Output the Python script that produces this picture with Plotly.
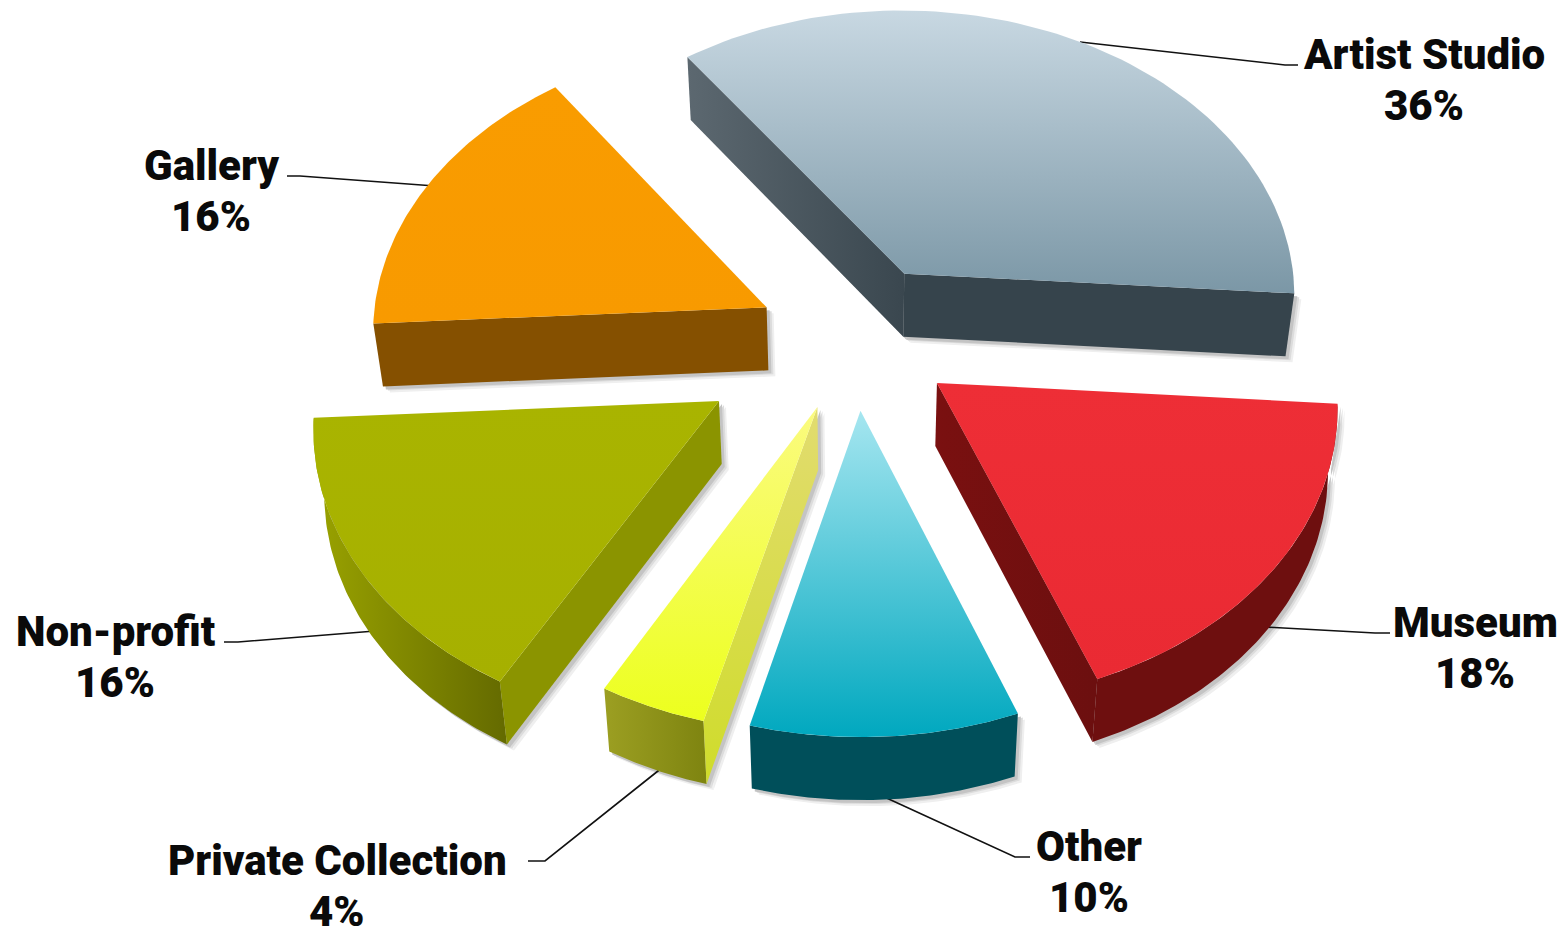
import numpy as np
import plotly.graph_objects as go

categories = ["Artist Studio", "Museum", "Other", "Private Collection", "Non-profit", "Gallery"]
shares = [36, 18, 10, 4, 16, 16]

# style / projection parameters
pulls = [0.26, 0.255, 0.245, 0.25, 0.40, 0.25]
radii = [1.0, 1.0, 1.008, 1.008, 1.007, 1.0]
visible_walls = [("r0", "r1"), ("r1", "arc"), ("arc",), ("arc", "r0"), ("arc", "r0"), ("r0",)]
START = 4.0; S = 395.0; TILT = 0.735; K = 0.07; CX = 855.0; CY = 338.5; H = 63.0; SHRINK = 0.98
top_grad = [("#7b97a6", "#c8d8e2"), ("#ea2a33", "#ee2e36"), ("#00a8bf", "#a6e6f0"),
            ("#ecff1e", "#fbfb80"), ("#a6b000", "#a9b400"), ("#f89a00", "#f99c00")]
wall_a1 = [("#36444c", "#36444c"), ("#7a1010", "#6c0f0f"), ("#004f5a", "#004f5a"),
           ("#cfdc2a", "#cfdc2a"), ("#8b9400", "#8b9400"), ("#855000", "#855000")]
wall_a0 = [("#5c6870", "#3a474f"), ("#7a1010", "#6c0f0f"), ("#004f5a", "#004f5a"),
           ("#cfdc2a", "#e2dc70", "vertical"), ("#8b9400", "#8b9400"), ("#855000", "#855000")]
wall_arc = [("#36444c", "#36444c"), ("#6e0f0f", "#6e0f0f"), ("#004f5a", "#004f5a"),
            ("#9c9f22", "#7e8410"), ("#9aa300", "#646a00"), ("#855000", "#855000")]
labels_at = [(1424, 80), (1475, 648), (1089, 872), (337, 886), (115, 657), (211, 191)]
leaders = [[(1080, 42), (1285, 65), (1298, 65)], [(1265, 627), (1375, 633), (1390, 633)],
           [(880, 795), (1015, 857), (1030, 857)], [(668, 763), (545, 861), (528, 861)],
           [(375, 631), (238, 642), (224, 642)], [(435, 186), (300, 176), (287, 176)]]
shadow_layers = [((7, 6), "#efefef"), ((5, 4), "#dcdcdc"), ((3, 3), "#c4c4c4")]


def project(X, Yfront):
    """ground coordinates (X right, Yfront towards viewer) to page pixels"""
    w = 1 - K * np.asarray(Yfront)
    return CX + S * np.asarray(X) / w, CY + S * TILT * np.asarray(Yfront) / w


def drop(px, py):
    return CX + (px - CX) * SHRINK, py + H


fig = go.Figure()


def poly(x, y, c):
    x = np.asarray(x); y = np.asarray(y)
    kw = dict(fillcolor=c[0]) if c[0] == c[1] else dict(
        fillgradient=dict(type=c[2] if len(c) > 2 else "horizontal", colorscale=[[0, c[0]], [1, c[1]]]))
    fig.add_trace(go.Scatter(x=np.r_[x, x[0]], y=np.r_[y, y[0]], mode="lines", fill="toself",
                             line=dict(width=0), hoverinfo="skip", showlegend=False, **kw))


total = sum(shares)
slices = []
cur = START - 360 * shares[0] / total
for v in shares:
    span = 360 * v / total
    slices.append((cur, cur + span))
    cur += span

paint_order = [0, 5, 4, 1, 3, 2]
pieces = {}
for i in paint_order:
    a0, a1 = np.radians(slices[i])
    mid = (a0 + a1) / 2
    ax0, ay0 = pulls[i] * np.cos(mid), pulls[i] * np.sin(mid)
    t = np.linspace(a0, a1, 80)
    arcx, arcy = project(ax0 + radii[i] * np.cos(t), ay0 + radii[i] * np.sin(t))
    apx, apy = project(ax0, ay0)
    bax, bay = drop(arcx, arcy)
    bpx, bpy = drop(apx, apy)
    pieces[i] = dict(
        arc=(np.r_[arcx, bax[::-1]], np.r_[arcy, bay[::-1]]),
        r1=(np.array([apx, arcx[-1], bax[-1], bpx]), np.array([apy, arcy[-1], bay[-1], bpy])),
        r0=(np.array([apx, arcx[0], bax[0], bpx]), np.array([apy, arcy[0], bay[0], bpy])),
        top=(np.r_[apx, arcx], np.r_[apy, arcy]),
    )

# soft shadow behind everything
for (dx, dy), col in shadow_layers:
    for i in paint_order:
        for key in visible_walls[i]:
            px, py = pieces[i][key]
            poly(px + dx, py + dy, (col, col))

annotations = []
for name, val, (lx, ly), pts in zip(categories, shares, labels_at, leaders):
    fig.add_trace(go.Scatter(x=[p[0] for p in pts], y=[p[1] for p in pts], mode="lines",
                             line=dict(color="#111111", width=1.6), hoverinfo="skip", showlegend=False))
    for txt, yy in ((name, ly - 26), (f"{val}%", ly + 25)):
        annotations.append(dict(x=lx, y=yy, xref="x", yref="y", showarrow=False, align="center",
                                text=txt,
                                font=dict(family="Roboto", size=42, weight=900, color="#0a0a0a")))

wall_styles = dict(arc=wall_arc, r0=wall_a0, r1=wall_a1)
for i in paint_order:
    p = pieces[i]
    for key in visible_walls[i]:
        poly(*p[key], wall_styles[key][i])
    poly(*p["top"], (*top_grad[i], "vertical"))

fig.update_layout(width=1564, height=928, margin=dict(l=0, r=0, t=0, b=0), paper_bgcolor="white",
                  plot_bgcolor="white", showlegend=False, annotations=annotations,
                  xaxis=dict(visible=False, range=[0, 1564], fixedrange=True),
                  yaxis=dict(visible=False, range=[928, 0], fixedrange=True))
fig.write_html("out.html", config=dict(displayModeBar=False),
               post_script="document.body.style.margin='0';document.body.style.overflow='hidden';")
